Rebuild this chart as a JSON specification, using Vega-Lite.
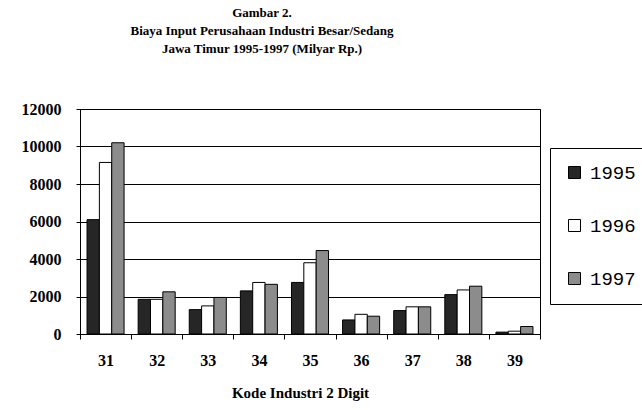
{
  "$schema": "https://vega.github.io/schema/vega-lite/v6.json",
  "width": 460,
  "height": 225,
  "autosize": {"type": "none"},
  "padding": {"left": 80, "top": 109, "right": 102, "bottom": 76},
  "background": "white",
  "title": {
    "text": ["Gambar 2.", "Biaya Input Perusahaan Industri Besar/Sedang", "Jawa Timur 1995-1997 (Milyar Rp.)"],
    "font": "Liberation Serif",
    "fontSize": 13,
    "fontWeight": "bold",
    "lineHeight": 18,
    "color": "black",
    "anchor": "middle",
    "frame": "group",
    "dx": -48,
    "offset": 45
  },
  "data": {
    "values": [
      {"kode": "31", "year": "1995", "value": 6100},
      {"kode": "31", "year": "1996", "value": 9150},
      {"kode": "31", "year": "1997", "value": 10200},
      {"kode": "32", "year": "1995", "value": 1850},
      {"kode": "32", "year": "1996", "value": 1850},
      {"kode": "32", "year": "1997", "value": 2250},
      {"kode": "33", "year": "1995", "value": 1300},
      {"kode": "33", "year": "1996", "value": 1500},
      {"kode": "33", "year": "1997", "value": 1950},
      {"kode": "34", "year": "1995", "value": 2300},
      {"kode": "34", "year": "1996", "value": 2750},
      {"kode": "34", "year": "1997", "value": 2650},
      {"kode": "35", "year": "1995", "value": 2750},
      {"kode": "35", "year": "1996", "value": 3800},
      {"kode": "35", "year": "1997", "value": 4450},
      {"kode": "36", "year": "1995", "value": 750},
      {"kode": "36", "year": "1996", "value": 1050},
      {"kode": "36", "year": "1997", "value": 950},
      {"kode": "37", "year": "1995", "value": 1250},
      {"kode": "37", "year": "1996", "value": 1450},
      {"kode": "37", "year": "1997", "value": 1450},
      {"kode": "38", "year": "1995", "value": 2100},
      {"kode": "38", "year": "1996", "value": 2350},
      {"kode": "38", "year": "1997", "value": 2550},
      {"kode": "39", "year": "1995", "value": 100},
      {"kode": "39", "year": "1996", "value": 150},
      {"kode": "39", "year": "1997", "value": 400}
    ]
  },
  "mark": {"type": "bar", "stroke": "black", "strokeWidth": 1},
  "encoding": {
    "x": {
      "field": "kode",
      "type": "nominal",
      "scale": {"paddingInner": 0, "paddingOuter": 0},
      "axis": {
        "title": "Kode Industri 2 Digit",
        "labelAngle": 0,
        "labelFont": "Liberation Serif",
        "labelFontSize": 16,
        "labelFontWeight": "bold",
        "labelColor": "black",
        "labelPadding": 13,
        "tickBand": "extent",
        "tickSize": 5,
        "tickColor": "black",
        "domainColor": "black",
        "titleFont": "Liberation Serif",
        "titleFontSize": 15,
        "titleFontWeight": "bold",
        "titleColor": "black",
        "titlePadding": 17,
        "titleX": 220,
        "grid": false
      }
    },
    "xOffset": {
      "field": "year",
      "type": "nominal",
      "scale": {"paddingInner": 0, "paddingOuter": 0.57}
    },
    "y": {
      "field": "value",
      "type": "quantitative",
      "scale": {"domain": [0, 12000]},
      "axis": {
        "title": null,
        "values": [0, 2000, 4000, 6000, 8000, 10000, 12000],
        "format": "d",
        "labelFont": "Liberation Serif",
        "labelFontSize": 16,
        "labelFontWeight": "bold",
        "labelColor": "black",
        "labelPadding": 15,
        "tickSize": 4,
        "tickColor": "black",
        "domainColor": "black",
        "grid": true,
        "gridColor": "black",
        "gridOpacity": 1
      }
    },
    "color": {
      "field": "year",
      "type": "nominal",
      "scale": {"domain": ["1995", "1996", "1997"], "range": ["#262626", "#ffffff", "#8c8c8c"]},
      "legend": {
        "title": null,
        "orient": "none",
        "legendX": 470,
        "legendY": 39,
        "strokeColor": "black",
        "padding": 15,
        "rowPadding": 33,
        "symbolType": "square",
        "symbolSize": 144,
        "symbolStrokeColor": "black",
        "symbolStrokeWidth": 1,
        "symbolOpacity": 1,
        "labelFont": "Liberation Mono",
        "labelFontSize": 19,
        "labelColor": "black",
        "labelOffset": 6
      }
    }
  },
  "config": {
    "view": {"stroke": "black", "strokeWidth": 1}
  }
}
